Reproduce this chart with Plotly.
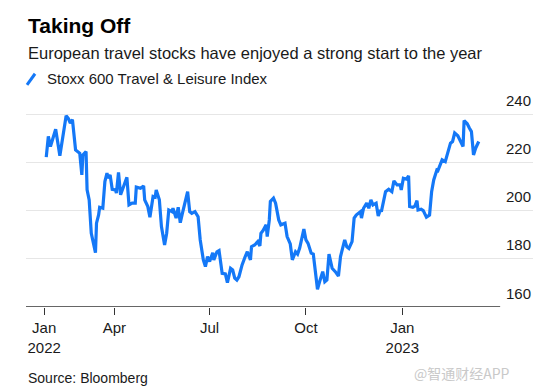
import plotly.graph_objects as go

# ---- data ----
dates = [
    "2022-01-26", "2022-01-28", "2022-01-30", "2022-02-01", "2022-02-04", "2022-02-08",
    "2022-02-11", "2022-02-14", "2022-02-16", "2022-02-18", "2022-02-20", "2022-02-23",
    "2022-02-27", "2022-03-01", "2022-03-02", "2022-03-05", "2022-03-06", "2022-03-08",
    "2022-03-10", "2022-03-14", "2022-03-15", "2022-03-17", "2022-03-18", "2022-03-21",
    "2022-03-23", "2022-03-25", "2022-03-26", "2022-03-28", "2022-03-30", "2022-04-02",
    "2022-04-03", "2022-04-05", "2022-04-07", "2022-04-10", "2022-04-13", "2022-04-15",
    "2022-04-18", "2022-04-21", "2022-04-22", "2022-04-26", "2022-04-29", "2022-04-30",
    "2022-05-03", "2022-05-05", "2022-05-08", "2022-05-10", "2022-05-11", "2022-05-14",
    "2022-05-16", "2022-05-19", "2022-05-21", "2022-05-23", "2022-05-26", "2022-05-27",
    "2022-05-30", "2022-06-01", "2022-06-03", "2022-06-05", "2022-06-08", "2022-06-10",
    "2022-06-12", "2022-06-14", "2022-06-17", "2022-06-20", "2022-06-22", "2022-06-25",
    "2022-06-27", "2022-06-29", "2022-07-01", "2022-07-04", "2022-07-05", "2022-07-08",
    "2022-07-10", "2022-07-13", "2022-07-16", "2022-07-18", "2022-07-21", "2022-07-23",
    "2022-07-25", "2022-07-27", "2022-07-29", "2022-08-01", "2022-08-04", "2022-08-06",
    "2022-08-09", "2022-08-10", "2022-08-13", "2022-08-16", "2022-08-18", "2022-08-19",
    "2022-08-21", "2022-08-24", "2022-08-25", "2022-08-27", "2022-08-28", "2022-08-31",
    "2022-09-02", "2022-09-05", "2022-09-07", "2022-09-09", "2022-09-11", "2022-09-13",
    "2022-09-15", "2022-09-16", "2022-09-18", "2022-09-21", "2022-09-23", "2022-09-25",
    "2022-09-29", "2022-10-01", "2022-10-03", "2022-10-06", "2022-10-08", "2022-10-10",
    "2022-10-12", "2022-10-14", "2022-10-17", "2022-10-19", "2022-10-21", "2022-10-23",
    "2022-10-26", "2022-10-29", "2022-11-01", "2022-11-03", "2022-11-07", "2022-11-09",
    "2022-11-11", "2022-11-14", "2022-11-16", "2022-11-18", "2022-11-22", "2022-11-23",
    "2022-11-25", "2022-11-28", "2022-11-30", "2022-12-02", "2022-12-04", "2022-12-07",
    "2022-12-09", "2022-12-11", "2022-12-12", "2022-12-16", "2022-12-19", "2022-12-22",
    "2022-12-24", "2022-12-27", "2022-12-30", "2022-12-31", "2023-01-02", "2023-01-05",
    "2023-01-07", "2023-01-08", "2023-01-11", "2023-01-13", "2023-01-15", "2023-01-16",
    "2023-01-19", "2023-01-21", "2023-01-24", "2023-01-27", "2023-01-29", "2023-01-31",
    "2023-02-03", "2023-02-04", "2023-02-06", "2023-02-08", "2023-02-11", "2023-02-13",
    "2023-02-16", "2023-02-18", "2023-02-20", "2023-02-23", "2023-02-25", "2023-02-28",
    "2023-03-01", "2023-03-04", "2023-03-06", "2023-03-08", "2023-03-10", "2023-03-12",
    "2023-03-15",
]
index_values = [
    222.4, 231.0, 226.8, 229.6, 234.0, 223.0,
    231.0, 239.6, 238.5, 236.5, 238.0, 225.4,
    224.0, 215.0, 223.3, 224.7, 208.8, 204.6,
    190.7, 182.6, 194.9, 198.3, 201.5, 201.1,
    212.2, 215.7, 213.6, 215.0, 209.0, 208.75,
    207.4, 216.0, 206.7, 210.8, 214.0, 202.5,
    203.2, 203.2, 209.9, 209.4, 210.4, 204.6,
    201.8, 197.4, 206.0, 205.7, 208.75, 204.6,
    193.5, 185.8, 190.7, 200.4, 199.7, 201.1,
    197.0, 201.5, 195.1, 199.0, 205.3, 208.0,
    199.7, 199.0, 199.7, 197.6, 188.0, 179.6,
    176.8, 181.0, 178.9, 182.6, 179.6, 183.0,
    183.5, 174.0, 173.75, 170.1, 176.1, 175.4,
    172.0, 171.25, 172.6, 177.5, 181.0, 183.0,
    179.6, 185.1, 185.8, 187.2, 185.4, 190.7,
    191.8, 194.2, 189.3, 196.25, 203.9, 205.3,
    203.2, 196.25, 194.2, 194.6, 194.9, 189.3,
    187.2, 186.25, 179.6, 183.0, 182.0, 184.5,
    192.4, 187.9, 186.5, 182.4, 182.0, 174.0,
    167.4, 170.5, 174.7, 170.5, 171.25, 182.0,
    176.1, 174.7, 172.9, 181.0, 187.9, 185.1,
    184.4, 187.2, 197.0, 198.3, 199.7, 197.0,
    201.1, 203.2, 201.1, 204.6, 202.5, 203.2,
    197.9, 200.4, 199.7, 208.0, 209.0, 208.0,
    212.5, 210.8, 210.8, 208.75, 213.6, 213.2,
    214.6, 201.8, 201.5, 202.0, 204.3, 200.4,
    200.7, 200.1, 197.4, 198.3, 208.0, 212.9,
    217.0, 216.8, 219.2, 221.25, 220.5, 224.0,
    228.2, 228.9, 232.4, 231.25, 229.3, 226.8,
    237.6, 236.25, 234.5, 233.0, 223.3, 226.1,
    228.9,
]
series_name = "Stoxx 600 Travel & Leisure Index"

x_tick_dates = ["2022-01-24", "2022-04-01", "2022-07-01", "2022-10-01", "2023-01-01"]
x_tick_labels = ["Jan<br>2022", "Apr", "Jul", "Oct", "Jan<br>2023"]
y_tick_values = [160, 180, 200, 220, 240]
y_tick_labels = ["160", "180", "200", "220", "240"]

title_text = "Taking Off"
subtitle_text = "European travel stocks have enjoyed a strong start to the year"
source_text = "Source: Bloomberg"
watermark_text = "@智通财经APP"

# ---- styling ----
BLUE = "#1478F7"
FONT = "Liberation Sans, Arial, sans-serif"
TEXT = "#1a1a1a"
x_range = ["2022-01-06 16:00", "2023-05-05 19:00"]
axis_end = "2023-04-04 10:00"
y_range = [160, 242]

fig = go.Figure()
fig.add_trace(go.Scatter(
    x=dates, y=index_values, mode="lines", name=series_name,
    line=dict(color=BLUE, width=3.2), showlegend=False, hoverinfo="x+y",
))

fig.update_layout(
    width=558, height=392,
    margin=dict(l=26, r=25, t=110.2, b=85, pad=0),
    paper_bgcolor="white", plot_bgcolor="white",
    font=dict(family=FONT, color=TEXT, size=15),
    xaxis=dict(
        type="date", range=x_range, showgrid=False, zeroline=False, showline=False,
        tickmode="array", tickvals=x_tick_dates, ticktext=x_tick_labels,
        ticks="outside", ticklen=7, tickwidth=1.2, tickcolor="#333",
        tickfont=dict(family=FONT, size=15, color=TEXT),
    ),
    yaxis=dict(
        range=y_range, showgrid=True, gridcolor="#e6e6e6", gridwidth=1,
        tickmode="array", tickvals=[v for v in y_tick_values if v != y_range[0]],
        showticklabels=False, zeroline=False, showline=False, ticks="",
    ),
)

# x axis baseline (ends before the label column)
fig.add_shape(type="line", xref="x", yref="y", x0=x_range[0], x1=axis_end,
              y0=y_range[0], y1=y_range[0], line=dict(color="#333", width=1.3))

# y tick labels sitting above the gridlines at the right
for v, lab in zip(y_tick_values, y_tick_labels):
    fig.add_annotation(x=1, xref="paper", y=v, yref="y", text=lab, showarrow=False,
                       xanchor="right", yanchor="middle", yshift=14,
                       font=dict(family=FONT, size=15, color=TEXT))

# titles
fig.add_annotation(x=0, xref="paper", y=1.4278, yref="paper", text="<b>" + title_text + "</b>",
                   showarrow=False, xanchor="left", yanchor="middle",
                   font=dict(family=FONT, size=21, color="#000"))
fig.add_annotation(x=0, xref="paper", y=1.2907, yref="paper", text=subtitle_text,
                   showarrow=False, xanchor="left", yanchor="middle",
                   font=dict(family=FONT, size=16.5, color=TEXT))
# legend
fig.add_shape(type="line", xref="paper", yref="paper", x0=0.002, x1=0.0178,
              y0=1.128, y1=1.184, line=dict(color=BLUE, width=3))
fig.add_annotation(x=0.0375, xref="paper", y=1.1585, yref="paper", text=series_name,
                   showarrow=False, xanchor="left", yanchor="middle",
                   font=dict(family=FONT, size=15, color=TEXT))
# source
fig.add_annotation(x=0, xref="paper", y=-0.3608, yref="paper", text=source_text,
                   showarrow=False, xanchor="left", yanchor="middle",
                   font=dict(family=FONT, size=14, color=TEXT))
fig.add_annotation(x=0.9586, xref="paper", y=-0.335, yref="paper", text=watermark_text,
                   showarrow=False, xanchor="right", yanchor="middle",
                   font=dict(family="Noto Sans CJK SC, sans-serif", size=14, color="#c9c9c9"))

fig.write_html("out.html", config={"displayModeBar": False},
               post_script="document.body.style.margin='0';")
